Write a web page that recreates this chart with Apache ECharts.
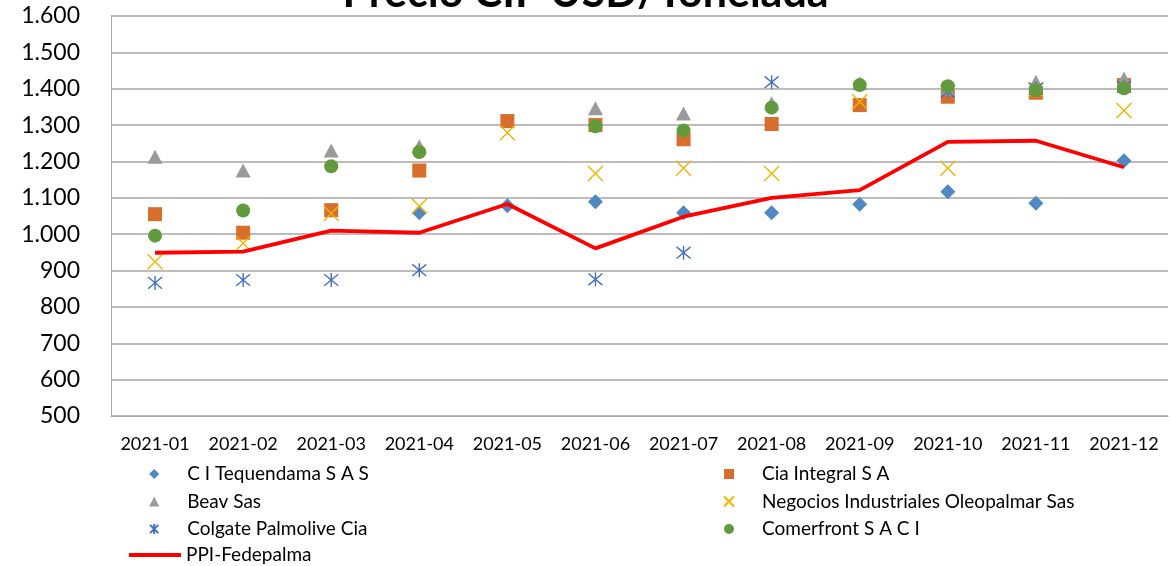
<!DOCTYPE html>
<html>
<head>
<meta charset="utf-8">
<script src="https://cdn.jsdelivr.net/npm/echarts@6/dist/echarts.min.js"></script>
<style>
  html, body { margin: 0; padding: 0; background: #fff; }
  #main { width: 1171px; height: 566px; }
</style>
</head>
<body>
<div id="main"></div>
<script>
var months = ["2021-01", "2021-02", "2021-03", "2021-04", "2021-05", "2021-06",
    "2021-07", "2021-08", "2021-09", "2021-10", "2021-11", "2021-12"];

// precio CIF por exportador (USD/t), null = sin dato
var tequendama = [null, null, null, 1059, 1078, 1089, 1059, 1059, 1082, 1117, 1085, 1202];
var ciaIntegral = [1055, 1004, 1066, 1175, 1311, 1300, 1261, 1303, 1355, 1378, 1389, 1410];
var beav = [1213, 1175, 1230, 1242, null, 1346, 1332, 1360, 1415, 1400, 1419, 1428];
var oleopalmar = [924, 975, 1057, 1077, 1279, 1167, 1181, 1167, 1364, 1181, 1398, 1340];
var colgate = [866, 874, 874, 901, null, 876, 949, 1418, null, 1392, 1400, 1405];
var comerfront = [996, 1065, 1187, 1226, null, 1297, 1285, 1348, 1410, 1407, 1396, 1401];
var ppi = [949, 952, 1010, 1004, 1083, 961, 1048, 1100, 1121, 1254, 1257, 1184];

var FONT = "Lato";
var xPath = "path://M0 0L10 10M10 0L0 10";
var starPath = "path://M0 0L10 10M10 0L0 10M5 -1L5 11";

var chart = echarts.init(document.getElementById("main"));

function fmt(v) {
    return String(v).replace(/\B(?=(\d{3})+(?!\d))/g, ".");
}

var legendText = { fontFamily: FONT, fontSize: 19, lineHeight: 20, color: "#000" };

var option = {
    animation: false,
    backgroundColor: "#fff",
    title: {
        text: "Precio CIF USD/Tonelada",
        left: "center",
        top: -33,
        textStyle: { fontFamily: FONT, fontSize: 43, fontWeight: "bold", color: "#000" }
    },
    grid: { left: 111, right: 3, top: 16, bottom: 150 },
    legend: [
        {
            orient: "vertical", left: 144, top: 459,
            itemWidth: 10, itemHeight: 10, itemGap: 7.5,
            textStyle: Object.assign({ padding: [0, 0, 0, 23] }, legendText),
            data: ["C I Tequendama S A S", "Beav Sas", "Colgate Palmolive Cia"]
        },
        {
            orient: "vertical", left: 718, top: 459,
            itemWidth: 10, itemHeight: 10, itemGap: 7.5,
            textStyle: Object.assign({ padding: [0, 0, 0, 23] }, legendText),
            data: ["Cia Integral S A", "Negocios Industriales Oleopalmar Sas", "Comerfront S A C I"]
        },
        {
            orient: "vertical", left: 124, top: 540,
            itemWidth: 52, itemHeight: 4,
            textStyle: legendText,
            data: [{ name: "PPI-Fedepalma", icon: "rect" }]
        }
    ],
    xAxis: {
        type: "category",
        data: months,
        boundaryGap: true,
        axisLine: { lineStyle: { color: "#a6a6a6", width: 1 } },
        axisTick: { show: false },
        axisLabel: { fontFamily: FONT, fontSize: 18, color: "#000", margin: 19, interval: 0, hideOverlap: false },
        splitLine: { show: false }
    },
    yAxis: {
        type: "value",
        min: 500,
        max: 1600,
        interval: 100,
        axisLine: { show: true, lineStyle: { color: "#a6a6a6", width: 1 } },
        axisTick: { show: false },
        axisLabel: { fontFamily: FONT, fontSize: 23, color: "#000", margin: 31, formatter: fmt },
        splitLine: { lineStyle: { color: "#a6a6a6", width: 1.5 } }
    },
    series: [
        {
            name: "C I Tequendama S A S", type: "scatter", data: tequendama,
            symbol: "diamond", symbolSize: 15,
            itemStyle: { color: "#4f88c2", opacity: 1 }
        },
        {
            name: "Cia Integral S A", type: "scatter", data: ciaIntegral,
            symbol: "rect", symbolSize: 14,
            itemStyle: { color: "#d86e2c", opacity: 1 }
        },
        {
            name: "Beav Sas", type: "scatter", data: beav,
            symbol: "triangle", symbolSize: [15, 14],
            itemStyle: { color: "#9a9a9a", opacity: 1 }
        },
        {
            name: "Negocios Industriales Oleopalmar Sas", type: "scatter", data: oleopalmar,
            symbol: xPath, symbolSize: 15,
            itemStyle: { color: "rgba(0,0,0,0)", borderColor: "#f2b400", borderWidth: 1.4, opacity: 1 }
        },
        {
            name: "Colgate Palmolive Cia", type: "scatter", data: colgate,
            symbol: starPath, symbolSize: 14,
            itemStyle: { color: "rgba(0,0,0,0)", borderColor: "#4470c0", borderWidth: 1.4, opacity: 1 }
        },
        {
            name: "Comerfront S A C I", type: "scatter", data: comerfront,
            symbol: "circle", symbolSize: 14,
            itemStyle: { color: "#629b3e", opacity: 1 }
        },
        {
            name: "PPI-Fedepalma", type: "line", data: ppi,
            symbol: "none",
            lineStyle: { color: "#ff0000", width: 3.8 },
            itemStyle: { color: "#ff0000" }
        }
    ]
};

chart.setOption(option);
</script>
</body>
</html>
